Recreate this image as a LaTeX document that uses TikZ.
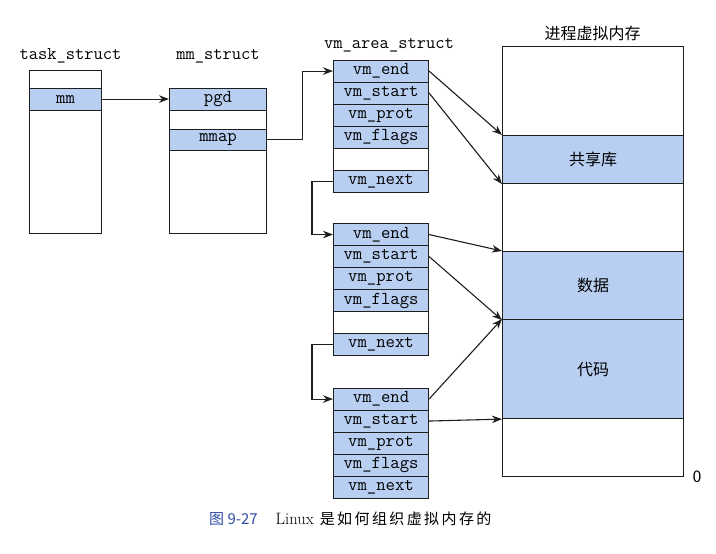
\documentclass[tikz,border=0pt]{standalone}
\usepackage{fontspec}
\newfontfamily\cjk{Noto Sans CJK SC}
\usetikzlibrary{arrows.meta}

\definecolor{cellblue}{RGB}{184,207,242}
\definecolor{capblue}{RGB}{45,75,165}
\definecolor{ink}{RGB}{30,30,30}

\tikzset{
  x=1pt, y=-1pt,
  frame/.style={draw=ink, line width=1.1pt, fill=white, inner sep=0pt, anchor=north west},
  cell/.style={draw=ink, line width=1.1pt, fill=cellblue, inner sep=0pt, anchor=north west,
               minimum height=22pt, font=\fontsize{18.2}{18}\ttfamily},
  blankcell/.style={cell, fill=white},
  region/.style={draw=ink, line width=1.1pt, fill=cellblue, inner sep=0pt, anchor=north west,
                 minimum width=181pt, font=\fontsize{16}{16}\cjk},
  title/.style={font=\fontsize{18}{18}\ttfamily},
  arr/.style={draw=ink, line width=1.1pt, -{Stealth[length=10pt,width=7.5pt]}},
}

\begin{document}
\begin{tikzpicture}
\useasboundingbox (0,0) rectangle (716,554);

% task_struct
\node[title] (tasklbl) at (70.5,56) {task\_struct};
\node[frame, minimum width=72pt, minimum height=163pt] (task) at (29,70) {};
\node[cell, minimum width=72pt] (mm) at (29,87.5) {mm};

% mm_struct
\node[title] (mmlbl) at (218,56) {mm\_struct};
\node[frame, minimum width=97pt, minimum height=145.5pt] (mms) at (169,87.5) {};
\node[cell, minimum width=97pt] (pgd) at (169,87.5) {pgd};
\node[cell, minimum width=97pt, minimum height=21.5pt] (mmap) at (169,128.5) {mmap};

% vm_area_struct list
\node[title] (vmalbl) at (389,45) {vm\_area\_struct};

\foreach \b/\top in {a/59.5, b/223, c/387.5} {
  \node[cell, minimum width=95pt] (\b end)   at (333,\top)    {vm\_end};
  \node[cell, minimum width=95pt] (\b start) at (333,\top+22) {vm\_start};
  \node[cell, minimum width=95pt] (\b prot)  at (333,\top+44) {vm\_prot};
  \node[cell, minimum width=95pt] (\b flags) at (333,\top+66) {vm\_flags};
}
\node[blankcell, minimum width=95pt] (ablank) at (333,147.5) {};
\node[cell, minimum width=95pt] (anext) at (333,169.5) {vm\_next};
\node[blankcell, minimum width=95pt] (bblank) at (333,311) {};
\node[cell, minimum width=95pt] (bnext) at (333,333) {vm\_next};
\node[cell, minimum width=95pt] (cnext) at (333,475.5) {vm\_next};

% process virtual memory
\node[font=\fontsize{16}{16}\cjk] (memlbl) at (592.5,33) {进程虚拟内存};
\node[frame, minimum width=181pt, minimum height=430pt] (mem) at (502,46) {};
\node[region, minimum height=48pt] (shlib) at (502,135) {共享库};
\node[region, minimum height=68pt] (data) at (502,251) {数据};
\node[region, minimum height=99pt] (code) at (502,319) {代码};
\node[font=\fontsize{16}{16}\cjk] (zero) at (697,476.5) {0};

% pointers
\draw[arr] (mm.east) -- (pgd.west);
\draw[arr] (mmap.east) -- ++(35,0) |- (aend.west);
\draw[arr] (anext.west) -- ++(-21,0) |- (bend.west);
\draw[arr] (bnext.west) -- ++(-21,0) |- (cend.west);

% area bounds into the address space
\draw[arr] (aend.east)   -- (shlib.north west);
\draw[arr] (astart.east) -- (shlib.south west);
\draw[arr] (bend.east)   -- (data.north west);
\draw[arr] (bstart.east) -- (data.south west);
\draw[arr] (cend.east)   -- (code.north west);
\draw[arr] (cstart.east) -- (code.south west);

% caption
\node[anchor=west, inner sep=0pt] (cap) at (209,519)
  {{\color{capblue}\fontsize{15}{16}\cjk 图 9-27}\hspace{18pt}{\fontsize{16.5}{17}\selectfont Linux}\hspace{6pt}{\fontsize{15}{16}\cjk\addfontfeature{LetterSpace=16}是如何组织虚拟内存的}};
\end{tikzpicture}
\end{document}
